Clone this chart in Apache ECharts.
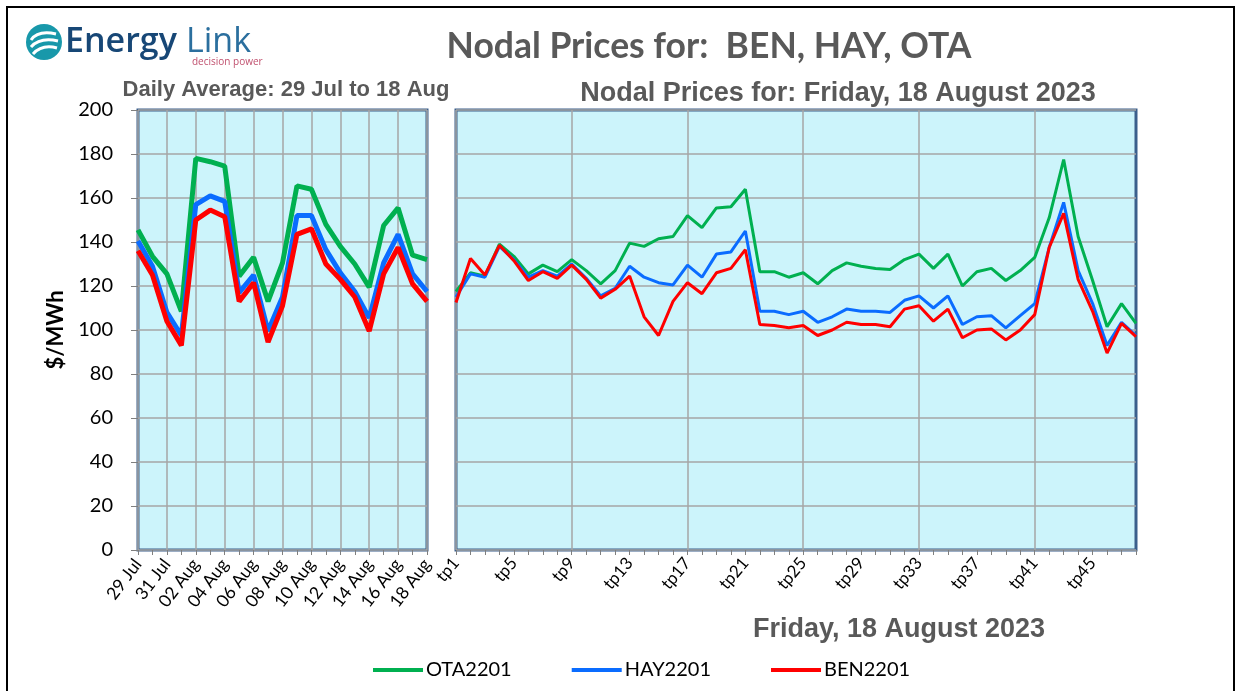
<!DOCTYPE html>
<html>
<head>
<meta charset="utf-8">
<script src="https://cdn.jsdelivr.net/npm/echarts@6/dist/echarts.min.js"></script>
<style>
  html, body { margin: 0; padding: 0; background: #fff; }
  #chart { width: 1242px; height: 691px; }
</style>
</head>
<body>
<div id="chart"></div>
<script>
// daily averages, 29 Jul to 18 Aug
const dayLabels = ['29 Jul', '30 Jul', '31 Jul', '01 Aug', '02 Aug', '03 Aug', '04 Aug', '05 Aug', '06 Aug', '07 Aug',
  '08 Aug', '09 Aug', '10 Aug', '11 Aug', '12 Aug', '13 Aug', '14 Aug', '15 Aug', '16 Aug', '17 Aug', '18 Aug'];
const otaDaily = [145.5, 133.5, 125.5, 108.5, 178, 176.5, 174.5, 124.5, 133, 113, 130.5, 165.5, 164, 148, 138, 130, 119.5, 147.5, 155.5, 134, 132];
const hayDaily = [140.5, 129, 108, 97.5, 157, 161, 158.5, 117, 125, 99.5, 115, 152, 152, 136.5, 126, 117.5, 105.5, 130.5, 143.5, 125.5, 117.5];
const benDaily = [136, 125, 104, 93, 150, 154.5, 151.5, 113, 121.5, 94.5, 111, 143.5, 146, 130, 123, 115, 99.5, 125.5, 137.5, 121, 113];

// trading periods, Friday 18 August 2023
const tpLabels = Array.from({ length: 48 }, (_, i) => 'tp' + (i + 1));
const otaTp = [117.5, 126, 124.5, 139, 133.5, 125.5, 129.5, 126.5, 132, 127, 121, 127, 139.5, 138, 141.5, 142.5,
  152, 146.5, 155.5, 156, 164, 126.5, 126.5, 124, 126, 121, 127, 130.5, 129, 128, 127.5, 132,
  134.5, 128, 134.5, 120, 126.5, 128, 122.5, 127, 133, 151, 177.5, 142.5, 122.5, 101.5, 112, 103];
const hayTp = [115, 125.5, 124, 138, 132, 124, 127, 124.5, 130, 123.5, 115.5, 119, 129, 124, 121.5, 120.5,
  129.5, 124, 134.5, 135.5, 145, 108.5, 108.5, 107, 108.5, 103.5, 106, 109.5, 108.5, 108.5, 108, 113.5,
  115.5, 110, 115.5, 102.5, 106, 106.5, 101, 106.5, 112, 137.5, 158, 127, 112, 93, 103.5, 97.5];
const benTp = [112.5, 132.5, 125, 138.5, 131.5, 122.5, 126.5, 123.5, 129.5, 123, 114.5, 118.5, 124.5, 106, 97.5, 113,
  121.5, 116.5, 126, 128, 136.5, 102.5, 102, 101, 102, 97.5, 100, 103.5, 102.5, 102.5, 101.5, 109.5,
  111, 104, 109.5, 96.5, 100, 100.5, 95.5, 100, 107, 137.5, 153, 123, 108.5, 89.5, 103, 97];

const names = ['OTA2201', 'HAY2201', 'BEN2201'];
const colors = ['#00b050', '#0a6cff', '#ff0000'];

const chart = echarts.init(document.getElementById('chart'));

const gridStyle = {
  show: true,
  backgroundColor: '#ccf4fb',
  borderColor: '#3b5f8c',
  borderWidth: 3
};
const splitStyle = { color: '#a6a6a6', width: 1.5 };
const labelFont = { fontFamily: 'Lato', color: '#000' };

function lineSeries(name, color, data, idx, width) {
  return {
    name: name,
    type: 'line',
    xAxisIndex: idx,
    yAxisIndex: idx,
    data: data,
    symbol: 'none',
    lineStyle: { color: color, width: width },
    itemStyle: { color: color }
  };
}

chart.setOption({
  animation: false,
  color: colors,
  grid: [
    Object.assign({ left: 138, top: 110, width: 289, height: 440 }, gridStyle),
    Object.assign({ left: 456, top: 110, width: 680, height: 440 }, gridStyle)
  ],
  xAxis: [
    {
      type: 'category',
      gridIndex: 0,
      data: dayLabels,
      boundaryGap: false,
      axisLine: { show: false },
      axisTick: { show: true, interval: 0, length: 5, lineStyle: { color: '#7f7f7f' } },
      axisLabel: Object.assign({ interval: 1, rotate: 53, fontSize: 17.5, margin: 11 }, labelFont),
      splitLine: { show: true, interval: 1, lineStyle: splitStyle }
    },
    {
      type: 'category',
      gridIndex: 1,
      data: tpLabels,
      boundaryGap: false,
      axisLine: { show: false },
      axisTick: { show: true, interval: 0, length: 5, lineStyle: { color: '#7f7f7f' } },
      axisLabel: Object.assign({ interval: 3, rotate: 50, fontSize: 17, margin: 10 }, labelFont),
      splitLine: { show: true, interval: 7, lineStyle: splitStyle }
    }
  ],
  yAxis: [
    {
      type: 'value',
      gridIndex: 0,
      min: 0,
      max: 200,
      interval: 20,
      axisLine: { show: false },
      axisTick: { show: true, length: 7, lineStyle: { color: '#7f7f7f' } },
      axisLabel: Object.assign({ fontSize: 20, margin: 25 }, labelFont),
      splitLine: { show: true, lineStyle: splitStyle }
    },
    {
      type: 'value',
      gridIndex: 1,
      min: 0,
      max: 200,
      interval: 20,
      axisLine: { show: false },
      axisTick: { show: false },
      axisLabel: { show: false },
      splitLine: { show: true, lineStyle: splitStyle }
    }
  ],
  legend: {
    data: names,
    left: 368,
    top: 655,
    icon: 'rect',
    itemWidth: 50,
    itemHeight: 4,
    itemGap: 60,
    textStyle: { fontFamily: 'Lato', fontSize: 20, color: '#000', padding: [0, 0, 0, -2] }
  },
  series: [
    lineSeries(names[0], colors[0], otaDaily, 0, 5),
    lineSeries(names[1], colors[1], hayDaily, 0, 5),
    lineSeries(names[2], colors[2], benDaily, 0, 5),
    lineSeries(names[0], colors[0], otaTp, 1, 3),
    lineSeries(names[1], colors[1], hayTp, 1, 3),
    lineSeries(names[2], colors[2], benTp, 1, 3)
  ],
  graphic: [
    // outer frame
    { type: 'rect', shape: { x: 7, y: 7, width: 1227, height: 700 }, style: { fill: 'none', stroke: '#000', lineWidth: 2 }, z: 100 },
    // logo
    { type: 'circle', shape: { cx: 44, cy: 42, r: 18 }, style: { fill: '#1898aa' } },
    { type: 'bezierCurve', shape: { x1: 31, y1: 40, cpx1: 38, cpy1: 30, x2: 56, y2: 34 }, style: { stroke: '#fff', lineWidth: 3, fill: 'none' } },
    { type: 'bezierCurve', shape: { x1: 31, y1: 47, cpx1: 40, cpy1: 37, x2: 58, y2: 41 }, style: { stroke: '#fff', lineWidth: 3, fill: 'none' } },
    { type: 'bezierCurve', shape: { x1: 33, y1: 54, cpx1: 42, cpy1: 44, x2: 57, y2: 48 }, style: { stroke: '#fff', lineWidth: 3, fill: 'none' } },
    { type: 'text', x: 65, y: 42, style: { text: 'Energy', font: '600 34px "Open Sans"', fill: '#174776', textVerticalAlign: 'middle' } },
    { type: 'text', x: 186, y: 42, style: { text: 'Link', font: '34px "Open Sans"', fill: '#2b6f9e', textVerticalAlign: 'middle' } },
    { type: 'text', x: 192, y: 62, style: { text: 'decision power', font: '10px "Open Sans"', fill: '#c0506e', textVerticalAlign: 'middle' } },
    // titles
    { type: 'text', x: 709, y: 47, style: { text: 'Nodal Prices for:  BEN, HAY, OTA', font: 'bold 35.5px Lato', fill: '#595959', textAlign: 'center', textVerticalAlign: 'middle' } },
    { type: 'text', x: 286, y: 90, style: { text: 'Daily Average: 29 Jul to 18 Aug', font: 'bold 22px "Liberation Sans"', fill: '#595959', textAlign: 'center', textVerticalAlign: 'middle' } },
    { type: 'text', x: 838, y: 94, style: { text: 'Nodal Prices for: Friday, 18 August 2023', font: 'bold 27px "Liberation Sans"', fill: '#595959', textAlign: 'center', textVerticalAlign: 'middle' } },
    { type: 'text', x: 899, y: 630, style: { text: 'Friday, 18 August 2023', font: 'bold 27px "Liberation Sans"', fill: '#595959', textAlign: 'center', textVerticalAlign: 'middle' } },
    { type: 'text', x: 56, y: 330, rotation: Math.PI / 2, style: { text: '$/MWh', font: 'bold 22px Lato', fill: '#000', textAlign: 'center', textVerticalAlign: 'middle' } }
  ]
});
</script>
</body>
</html>
